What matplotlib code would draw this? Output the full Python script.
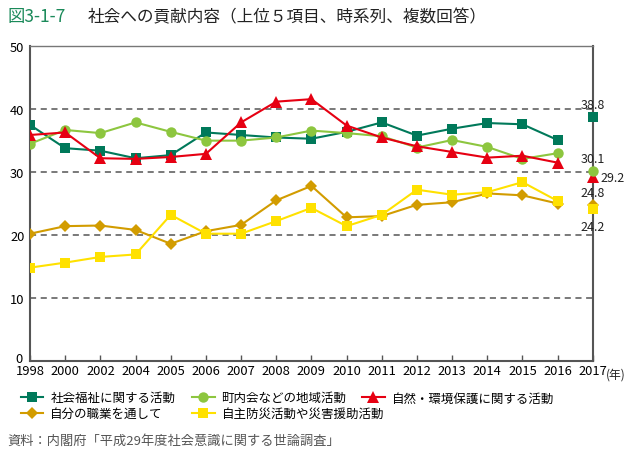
import numpy as np
import matplotlib
matplotlib.use('Agg')
import matplotlib.pyplot as plt
import matplotlib.transforms as mtrans

plt.rcParams['font.family'] = ['Noto Sans CJK JP', 'DejaVu Sans']

# survey years (evenly spaced categories)
years = ['1998', '2000', '2002', '2004', '2005', '2006', '2007', '2008', '2009',
         '2010', '2011', '2012', '2013', '2014', '2015', '2016', '2017']

# 1998-2016 series
welfare = [37.5, 33.8, 33.4, 32.2, 32.7, 36.3, 35.9, 35.5, 35.3,
           36.4, 37.9, 35.8, 36.9, 37.8, 37.6, 35.1]
community = [34.5, 36.7, 36.2, 37.9, 36.4, 35.0, 35.0, 35.5, 36.6,
             36.2, 35.7, 33.9, 35.1, 34.0, 32.1, 33.0]
nature = [35.9, 36.3, 32.2, 32.1, 32.4, 32.9, 37.9, 41.2, 41.6,
          37.4, 35.5, 34.1, 33.2, 32.3, 32.6, 31.5]
job = [20.2, 21.4, 21.5, 20.8, 18.6, 20.6, 21.6, 25.5, 27.8,
       22.8, 23.0, 24.8, 25.2, 26.6, 26.3, 25.0]
disaster = [14.8, 15.6, 16.5, 16.9, 23.2, 20.2, 20.2, 22.2, 24.3,
            21.4, 23.2, 27.2, 26.4, 26.8, 28.4, 25.4]

# 2017 values (separate survey, not joined)
v2017 = [38.8, 30.1, 29.2, 24.8, 24.2]

labels = ['社会福祉に関する活動', '町内会などの地域活動', '自然・環境保護に関する活動',
          '自分の職業を通して', '自主防災活動や災害援助活動']
colors = ['#00795a', '#8dc63f', '#e60012', '#d29c00', '#ffe100']
markers = ['s', 'o', '^', 'D', 's']
msizes = [7, 7.5, 8, 6, 7.5]

fig = plt.figure(figsize=(6.32, 4.6), dpi=100)
ax = fig.add_axes([0.0475, 0.2137, 0.8905, 0.6834])

x = np.arange(len(years) - 1)
series = [welfare, community, nature, job, disaster]
handles = []
for s, c, m, ms, lab in zip(series, colors, markers, msizes, labels):
    h, = ax.plot(x, s, color=c, marker=m, markersize=ms, lw=1.5, label=lab,
                 markeredgewidth=0, zorder=3)
    handles.append(h)

# 2017 points (red under green, yellow over gold)
x17 = len(years) - 1
for i in [2, 1, 0, 3, 4]:
    ax.plot([x17], [v2017[i]], color=colors[i], marker=markers[i], markersize=msizes[i],
            markeredgewidth=0, zorder=4, clip_on=False)

# 2017 value labels
lab_off = [(0, 9), (0, 9), (14, 0), (0, 9), (0, -13)]
for v, off in zip(v2017, lab_off):
    ax.annotate('{:.1f}'.format(v), (x17, v), xytext=off, textcoords='offset points',
                ha='center', va='center', fontsize=9, color='#222222')

ax.set_xlim(0, x17)
ax.set_ylim(0, 50)
ax.set_xticks(np.arange(len(years)))
ax.set_xticklabels(years, fontsize=9.3)
ax.set_yticks([0, 10, 20, 30, 40, 50])
ax.set_yticklabels(['0', '10', '20', '30', '40', '50'], fontsize=9.3)
ax.tick_params(axis='y', length=0, pad=4)
ax.tick_params(axis='x', direction='in', length=4, width=1, color='#555555', pad=2.5)
# lift the "0" a little so it clears "1998"
t0 = ax.get_yticklabels()[0]
t0.set_transform(t0.get_transform() + mtrans.ScaledTranslation(-1 / 72, 3 / 72, fig.dpi_scale_trans))

# unit after the last year label
ax.annotate('(年)', (x17, 0), xytext=(9.5, -9.5), textcoords='offset points',
            ha='left', va='center', fontsize=8.5, color='#222222')

for y in [10, 20, 30, 40]:
    ax.axhline(y, color='#555555', lw=1.1, ls=(0, (4, 3)), zorder=1)

for sp in ['left', 'bottom', 'right']:
    ax.spines[sp].set_color('#555555')
    ax.spines[sp].set_linewidth(1.5)
ax.spines['top'].set_color('#777777')
ax.spines['top'].set_linewidth(1.0)

# title
fig.text(0.012, 0.962, '図3-1-7', color='#1b8a5a', fontsize=12.5, va='center')
fig.text(0.138, 0.962, '社会への貢献内容（上位５項目、時系列、複数回答）', color='#222222',
         fontsize=12, va='center')

# legend: three columns on a fixed grid
cols = [[0, 3], [1, 4], [2]]
col_x = [0.033, 0.304, 0.573]
for idx, cx in zip(cols, col_x):
    leg = fig.legend([handles[i] for i in idx], [labels[i] for i in idx],
                     loc='upper left', bbox_to_anchor=(cx, 0.147), ncol=1,
                     frameon=False, fontsize=9, handlelength=1.8, handletextpad=0.55,
                     labelspacing=0.2, borderaxespad=0, borderpad=0)

fig.text(0.012, 0.04, '資料：内閣府「平成29年度社会意識に関する世論調査」', color='#555555',
         fontsize=9.5, va='center')

fig.savefig('out.png', dpi=100)
